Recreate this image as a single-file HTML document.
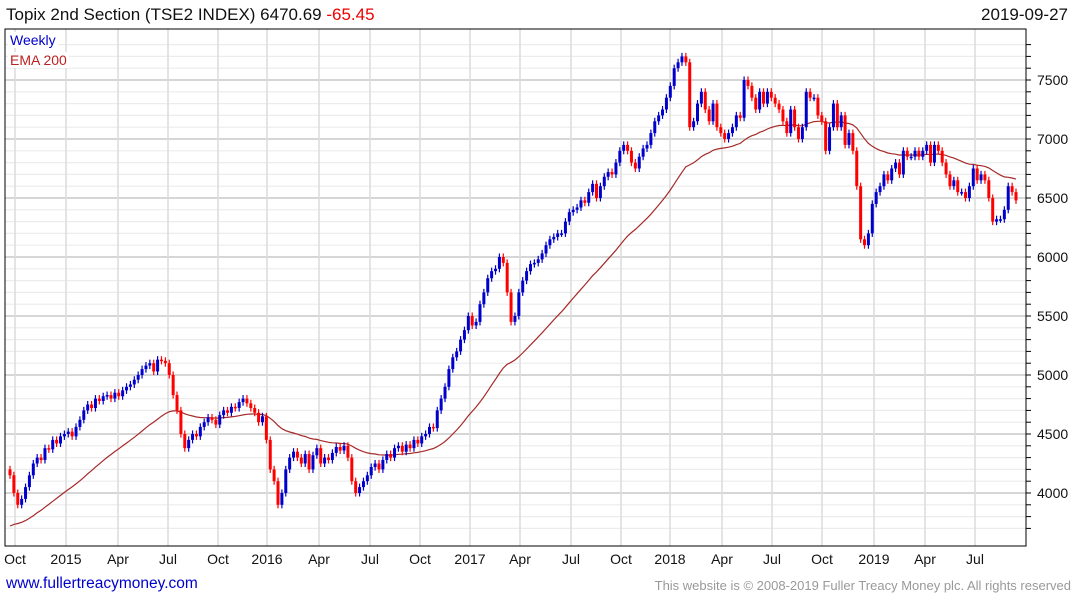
<!DOCTYPE html>
<html><head><meta charset="utf-8">
<style>
body{margin:0;background:#fff;font-family:"Liberation Sans",sans-serif;}
#wrap{position:relative;width:1075px;height:600px;overflow:hidden;}
.t{position:absolute;white-space:nowrap;}
</style></head>
<body>
<div id="wrap">
<svg id="chart" width="1075" height="600" style="position:absolute;left:0;top:0"></svg>
<div class="t" style="left:6px;top:5px;font-size:17px;color:#111">Topix 2nd Section (TSE2 INDEX) 6470.69 <span style="color:#e00">-65.45</span></div>
<div class="t" style="right:7px;top:5px;font-size:17px;color:#111">2019-09-27</div>
<div class="t" style="left:8px;top:32px;font-size:14px;color:#0000cc;background:#fff;padding:0 2px">Weekly</div>
<div class="t" style="left:8px;top:52px;font-size:14px;color:#b22;background:#fff;padding:0 2px">EMA 200</div>
<div class="t" style="left:6px;top:575px;font-size:15.5px;color:#0000cc">www.fullertreacymoney.com</div>
<div class="t" style="right:4px;top:578px;font-size:13px;color:#999">This website is © 2008-2019 Fuller Treacy Money plc. All rights reserved</div>
</div>
<script>
const closes=[4150,4000,3900,3950,4050,4150,4250,4300,4280,4380,4370,4450,4420,4480,
4500,4520,4480,4560,4620,4700,4750,4720,4800,4780,4820,4830,4800,
4850,4820,4870,4900,4920,4960,5000,5050,5080,5100,5030,5130,5120,
5100,5000,4830,4700,4500,4380,4450,4500,4480,4560,4600,4640,4620,
4580,4660,4700,4680,4730,4720,4770,4800,4760,4720,4680,4600,4650,
4450,4200,4100,3900,4000,4200,4300,4350,4300,4250,4330,4200,4320,
4380,4250,4300,4280,4340,4390,4360,4400,4300,4100,4000,4050,4100,
4150,4220,4250,4200,4280,4330,4300,4380,4400,4350,4410,4380,4450,
4420,4480,4500,4560,4550,4700,4800,4900,5050,5150,5200,5300,5380,
5500,5420,5450,5600,5700,5820,5880,5900,6000,5950,5700,5450,5500,
5700,5800,5880,5940,5950,5980,6030,6100,6150,6170,6200,6200,6300,
6380,6400,6420,6480,6460,6550,6620,6500,6600,6680,6720,6700,6800,
6900,6950,6900,6800,6750,6850,6920,6950,7050,7150,7200,7250,7350,
7450,7600,7650,7700,7650,7100,7150,7300,7400,7250,7150,7300,7100,
7050,7000,7050,7100,7200,7180,7500,7450,7350,7250,7400,7300,7400,
7350,7300,7250,7150,7050,7250,7100,7000,7100,7400,7350,7350,7200,
7150,6900,7100,7300,7100,7200,6950,7050,6900,6600,6150,6100,6200,
6450,6550,6600,6700,6650,6750,6800,6700,6900,6850,6850,6900,6850,
6900,6950,6800,6950,6900,6800,6700,6600,6650,6550,6550,6500,6600,
6750,6650,6700,6650,6500,6300,6320,6320,6400,6600,6550,6480];
const firstOpen=4200;
const emaStart=3720;
const yTicks=[4000,4500,5000,5500,6000,6500,7000,7500];
const xLabels=["Oct","2015","Apr","Jul","Oct","2016","Apr","Jul","Oct","2017","Apr","Jul","Oct","2018","Apr","Jul","Oct","2019","Apr","Jul"];
const xLabelPos=[15,66,118,168,218,267,319,370,420,470,520,571,621,670,722,772,822,874,925,975];
const L=5,R=1026,T=29,B=546;
const yScale=v=>493-(v-4000)*0.118;
const xScale=i=>10+i*(1006/(closes.length-1));
const svg=document.getElementById('chart');
const NS='http://www.w3.org/2000/svg';
function mk(tag,attrs){const e=document.createElementNS(NS,tag);for(const k in attrs)e.setAttribute(k,attrs[k]);svg.appendChild(e);return e;}
for(let v=3700;v<=7800;v+=100){const y=yScale(v);if(y<T||y>B)continue;
 const g=mk('line',{x1:L,x2:R,y1:y,y2:y,stroke:v%500===0?'#bdbdbd':'#ececec','stroke-width':1.2});
 
 const tk=mk('line',{x1:R,x2:R+5,y1:y,y2:y,stroke:'#000','stroke-width':1});
 }
xLabels.forEach((lab,i)=>{const x=xLabelPos[i];
 const g=mk('line',{x1:x,x2:x,y1:T,y2:B,stroke:'#dcdcdc','stroke-width':1.5});
 
 const t=mk('text',{x:x,y:564,'font-size':14,'text-anchor':'middle',fill:'#111','font-family':'Liberation Sans, sans-serif'});
 t.textContent=lab;});
yTicks.forEach(v=>{const t=mk('text',{x:1037,y:yScale(v)+5,'font-size':14,fill:'#111','font-family':'Liberation Sans, sans-serif'});
 t.textContent=v;});
const fr=mk('rect',{x:L,y:T,width:R-L,height:B-T,fill:'none',stroke:'#000','stroke-width':1});

let ema=emaStart;const a=2/41;let pts=[];
closes.forEach((c,i)=>{if(i>0)ema=ema+a*(c-ema);pts.push(xScale(i).toFixed(1)+','+yScale(ema).toFixed(1));});
const el=mk('polyline',{points:pts.join(' '),fill:'none',stroke:'#a52a2a','stroke-width':1.2});

closes.forEach((c,i)=>{const o=i===0?firstOpen:closes[i-1];const up=c>=o;const col=up?'#0000cc':'#ff0000';
 const x=xScale(i);const hi=Math.max(o,c)+30,lo=Math.min(o,c)-30;
 const w=mk('line',{x1:x,x2:x,y1:yScale(hi),y2:yScale(lo),stroke:col,'stroke-width':1.2});
 
 const y1=yScale(Math.max(o,c)),y2=yScale(Math.min(o,c));
 const b=mk('rect',{x:x-1.5,y:y1,width:3,height:Math.max(1.5,y2-y1),fill:col});
 });
</script>
</body></html>
